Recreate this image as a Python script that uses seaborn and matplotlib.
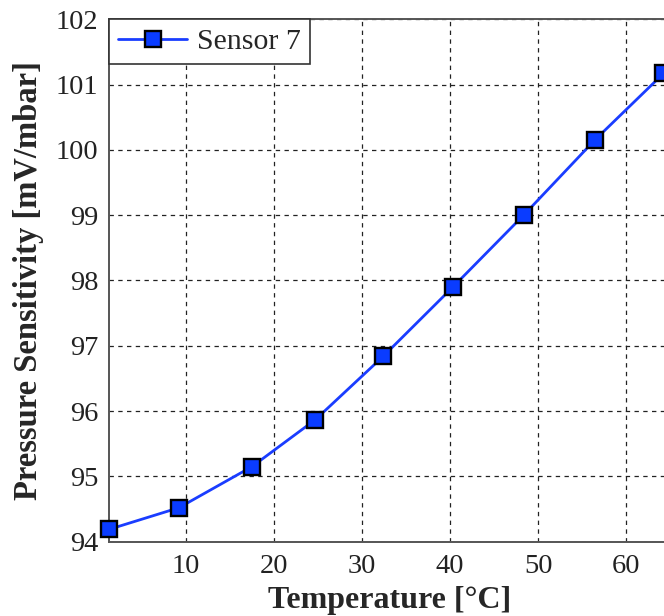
import matplotlib
matplotlib.use("Agg")
import matplotlib.pyplot as plt
import seaborn as sns
import pandas as pd

temperature = [1.3, 9.2, 17.5, 24.7, 32.4, 40.3, 48.4, 56.4, 64.2]
sensitivity = [94.19, 94.52, 95.15, 95.87, 96.84, 97.90, 99.01, 100.15, 101.17]
series_name = "Sensor 7"
x_ticks = [10, 20, 30, 40, 50, 60]
y_ticks = [94, 95, 96, 97, 98, 99, 100, 101, 102]

sns.set_style("white")
plt.rcParams["font.family"] = ["Liberation Serif", "DejaVu Serif"]

df = pd.DataFrame({"Temperature": temperature, "Sensitivity": sensitivity, "Series": series_name})

fig = plt.figure(figsize=(6.64, 6.16), dpi=100)
ax = fig.add_axes([109.3 / 664, 1 - 541.7 / 616, (670.5 - 109.3) / 664, (541.7 - 19.3) / 616])

sns.lineplot(data=df, x="Temperature", y="Sensitivity", hue="Series",
             palette=["#1a3dff"], marker="s", markersize=11,
             markerfacecolor="#0a3cff", markeredgecolor="black", markeredgewidth=1.7,
             linewidth=2.0, ax=ax, zorder=5, clip_on=False)

ax.set_xlim(1.3, 65)
ax.set_ylim(94, 102)
ax.set_xticks(x_ticks)
ax.set_yticks(y_ticks)
ax.set_xticklabels([str(t) for t in x_ticks])
ax.set_yticklabels([str(t) for t in y_ticks])
ax.tick_params(axis="both", labelsize=20.5, length=0, colors="#222222")
ax.tick_params(axis="y", pad=8)
ax.tick_params(axis="x", pad=9)

ax.grid(True, color="#222222", linestyle=(0, (3.5, 3.5)), linewidth=0.9)
ax.set_axisbelow(True)
for s in ax.spines.values():
    s.set_color("#555555")
    s.set_linewidth(1.4)
    s.set_visible(True)

ax.set_xlabel("Temperature [°C]", fontsize=23, fontweight="bold", labelpad=5)
ax.set_ylabel("Pressure Sensitivity [mV/mbar]", fontsize=23.5, fontweight="bold", labelpad=8)

leg = ax.legend(loc="upper left", borderaxespad=0, fontsize=21.5, frameon=True,
                fancybox=False, handlelength=2.3, handletextpad=0.35, borderpad=0.3,
                title=None)
leg.get_frame().set_edgecolor("#333333")
leg.get_frame().set_linewidth(1.2)
leg.get_frame().set_alpha(1)

fig.savefig("out.png", dpi=100)
